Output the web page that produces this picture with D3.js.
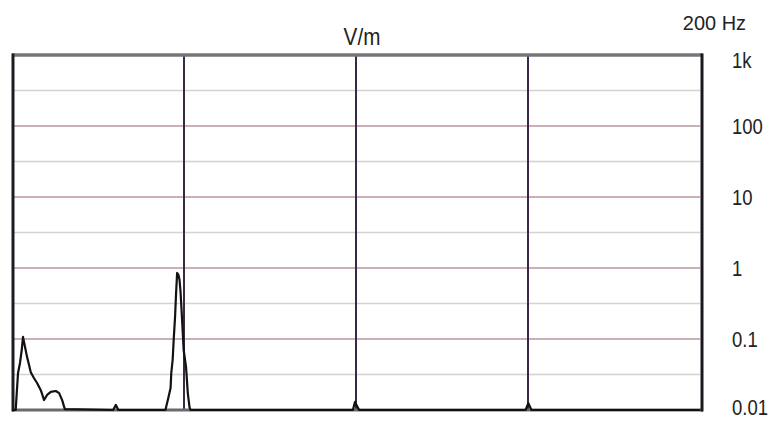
<!DOCTYPE html>
<html><head><meta charset="utf-8">
<script src="https://cdn.jsdelivr.net/npm/d3@7"></script>
<style>body{margin:0;background:#fff}svg{display:block}text{font-family:"Liberation Sans",Arial,sans-serif;fill:#222}</style>
</head><body>
<svg id="c" width="774" height="421"></svg>
<script>
// Frequency (Hz) and field strength (V/m)
const freqs  = [0,1.08,1.25,1.75,2.33,2.83,3.2,3.79,4.37,4.96,5.45,6.41,7.29,8.37,9.33,10.2,11.28,12.74,13.7,14.58,15.36,
                29.4,30.2,30.9,
                44.6,45.3,46.1,46.3,46.7,47.0,47.4,47.7,48.0,48.4,48.7,49.0,49.4,49.9,50.6,51.1,51.6,51.9,
                99.1,99.7,100.9,
                149.3,150.1,151.0,
                200];
const values = [0.01,0.01,0.0138,0.0332,0.046,0.070,0.107,0.077,0.056,0.043,0.034,0.028,0.024,0.019,0.0138,0.0163,0.018,0.0185,0.0173,0.0138,0.0103,
                0.01,0.0118,0.01,
                0.01,0.0138,0.0204,0.0332,0.0506,0.0968,0.204,0.445,0.851,0.796,0.678,0.459,0.204,0.070,0.040,0.0173,0.011,0.01,
                0.01,0.013,0.01,
                0.01,0.0125,0.01,
                0.01];
const yTicks = [0.01,0.1,1,10,100,1000];
const yTickLabels = ["0.01","0.1","1","10","100","1k"];
const yMidTicks = [0.0316,0.316,3.16,31.6,316];
const xGrid = [50,100,150];
const unitLabel = "V/m";
const rangeLabel = "200 Hz";

const svg = d3.select("#c");
const L=12, R=700, T=55, B=410;
const x = d3.scaleLinear().domain([0,200]).range([L,R]);
const y = d3.scaleLog().domain([0.01,1000]).range([B,T]);

// minor (half-decade) grid
svg.append("g").selectAll("line").data(yMidTicks).join("line")
  .attr("x1",L+2).attr("x2",R).attr("y1",d=>y(d)).attr("y2",d=>y(d))
  .attr("stroke","#d6d0d2").attr("stroke-width",1.5);
// decade grid
svg.append("g").selectAll("line").data(yTicks.slice(1,-1)).join("line")
  .attr("x1",L+2).attr("x2",R).attr("y1",d=>y(d)).attr("y2",d=>y(d))
  .attr("stroke","#b8949c").attr("stroke-width",1.5);
// vertical grid
svg.append("g").selectAll("line").data(xGrid).join("line")
  .attr("x1",d=>x(d)).attr("x2",d=>x(d)).attr("y1",T).attr("y2",B)
  .attr("stroke","#3a2848").attr("stroke-width",2);

// frame
svg.append("line").attr("x1",L).attr("x2",R+3).attr("y1",T).attr("y2",T).attr("stroke","#76767a").attr("stroke-width",3.5);
svg.append("line").attr("x1",L).attr("x2",R+3).attr("y1",B).attr("y2",B).attr("stroke","#6a6a6e").attr("stroke-width",3);
svg.append("line").attr("x1",L+1).attr("x2",L+1).attr("y1",T-1.5).attr("y2",B+1.5).attr("stroke","#1c1c22").attr("stroke-width",3);
svg.append("line").attr("x1",R+2).attr("x2",R+2).attr("y1",T-1.5).attr("y2",B+1.5).attr("stroke","#18181e").attr("stroke-width",3);

// data line
const line = d3.line().x((d,i)=>x(freqs[i])).y(d=>y(d));
svg.append("path").datum(values).attr("d",line)
  .attr("fill","none").attr("stroke","#111").attr("stroke-width",2.2).attr("stroke-linejoin","round");

// y tick labels (right), condensed
svg.append("g").selectAll("text").data(yTicks).join("text")
  .attr("transform",d=>`translate(732,${Math.min(Math.max(y(d),60),407)}) scale(0.84,1)`)
  .attr("text-anchor","start").attr("dominant-baseline","central")
  .attr("font-size",22).text((d,i)=>yTickLabels[i]);

svg.append("text").attr("transform","translate(362,45) scale(0.9,1)").attr("text-anchor","middle")
  .attr("font-size",23).text(unitLabel);
svg.append("text").attr("transform","translate(746,30) scale(0.95,1)").attr("text-anchor","end")
  .attr("font-size",21).text(rangeLabel);
</script>
</body></html>
